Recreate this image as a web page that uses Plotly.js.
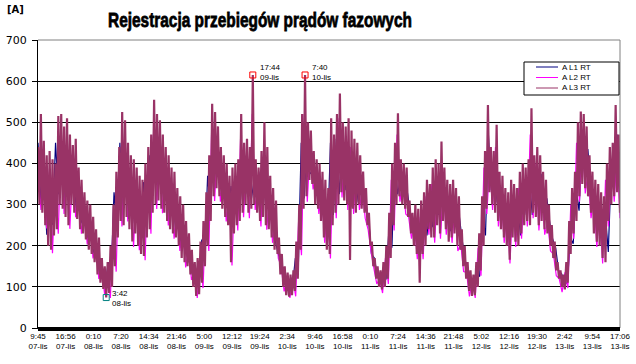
<!DOCTYPE html>
<html><head><meta charset="utf-8">
<script src="https://cdn.plot.ly/plotly-3.0.1.min.js"></script>
<style>html,body{margin:0;padding:0;background:#fff}#chart{width:636px;height:364px}</style>
</head><body><div id="chart"></div>
<script>
const seriesNames = ["A L1 RT", "A L2 RT", "A L3 RT"];
const seriesColors = ["#000080", "#FF00FF", "#993366"];
const chartTitle = "Rejestracja przebiegów prądów fazowych";
const unitLabel = "[A]";

const tickTimes = ["9:45","16:56","0:10","7:20","14:34","21:46","5:00","12:12","19:24","2:34","9:46",
  "16:58","0:10","7:24","14:36","21:48","5:02","12:16","19:30","2:42","9:54","17:06"];
const tickDates = ["07-lis","07-lis","08-lis","08-lis","08-lis","08-lis","09-lis","09-lis","09-lis","10-lis","10-lis",
  "10-lis","11-lis","11-lis","11-lis","11-lis","12-lis","12-lis","12-lis","13-lis","13-lis","13-lis"];
const yTicks = [0, 100, 200, 300, 400, 500, 600, 700];

const L1 = [450,305, 370,227, 360,251, 450,325, 430,297, 420,325, 410,291, 315,255, 265,215, 225,185,
  175,135, 120,99, 160,125, 330,245, 450,277, 400,265, 365,255, 325,205, 355,245, 420,305,
  460,335, 420,305, 370,265, 335,245, 275,195, 215,175, 155,125, 140,105, 215,175, 370,285,
  465,365, 390,315, 355,275, 345,255, 365,285, 400,325, 395,315, 365,305, 380,295, 390,265,
  295,215, 185,155, 120,105, 110,100, 170,145, 450,315, 445,375, 380,325, 355,285, 315,215,
  450,275, 460,325, 445,335, 450,295, 410,305, 375,315, 300,270, 180,170, 128,118, 135,118,
  240,195, 400,325, 370,320, 345,295, 245,225, 250,205, 285,225, 305,245, 365,275, 390,285,
  315,235, 315,255, 275,215, 165,145, 115,100, 135,125, 275,225, 470,335, 380,305, 335,265,
  295,225, 315,245, 295,225, 355,275, 365,275, 375,295, 375,285, 315,255, 215,195, 138,132,
  112,108, 220,205, 335,285, 465,365, 435,345, 335,255, 305,225, 275,185, 390,325, 470,335];

const L2 = [400,287, 410,242, 390,182, 365,229, 470,277, 460,241, 400,269, 350,229, 290,203, 260,169,
  205,119, 140,83, 130,73, 260,137, 400,247, 460,259, 380,197, 350,189, 320,165, 400,229,
  500,289, 460,279, 400,249, 350,217, 300,187, 260,147, 195,117, 135,73, 175,97, 290,187,
  490,309, 450,307, 380,259, 330,152, 360,237, 470,269, 420,267, 520,287, 350,247, 450,239,
  330,207, 270,169, 150,89, 115,73, 120,77, 260,177, 520,307, 440,337, 370,277, 340,207,
  300,169, 430,267, 510,317, 450,287, 440,277, 410,287, 340,267, 240,187, 145,107, 120,85,
  170,107, 360,237, 470,307, 360,277, 270,217, 260,167, 270,167, 320,227, 350,207, 360,217,
  350,227, 310,207, 300,187, 205,137, 135,77, 115,73, 195,127, 390,277, 400,287, 440,247,
  330,207, 290,157, 310,197, 340,217, 350,247, 470,267, 400,237, 340,227, 260,187, 180,127,
  120,87, 135,97, 300,217, 450,307, 470,327, 380,267, 320,197, 290,157, 360,247, 410,307,
  430,267];

const L3 = [440,300, 520,280, 455,250, 420,200, 430,190, 410,225, 400,240, 515,300, 520,290, 490,270,
  510,250, 470,300, 445,280, 460,265, 390,240, 360,230, 330,215, 310,190, 300,180, 270,160,
  240,130, 220,110, 170,95, 150,74, 160,85, 200,100, 300,150, 380,220, 440,260, 525,250,
  505,270, 450,240, 420,210, 410,230, 390,200, 370,180, 360,175, 400,220, 440,240, 470,280,
  555,300, 520,310, 505,290, 470,280, 440,260, 420,240, 390,230, 380,220, 340,200, 320,170,
  300,160, 260,150, 230,130, 190,100, 160,78, 170,82, 210,110, 260,150, 330,200, 420,260,
  545,320, 525,340, 490,320, 440,290, 420,270, 400,250, 370,160, 390,230, 400,250, 410,260,
  520,280, 450,300, 460,280, 440,290, 615,300, 410,280, 390,260, 430,270, 500,250, 440,240,
  370,220, 340,190, 310,180, 220,130, 180,100, 150,80, 135,76, 130,80, 140,90, 210,120,
  300,190, 520,290, 615,320, 500,360, 480,350, 430,300, 410,290, 400,260, 380,220, 360,190,
  340,180, 510,250, 470,280, 520,300, 570,330, 500,310, 490,300, 510,165, 480,290, 460,280,
  450,300, 420,290, 380,280, 340,250, 280,200, 210,150, 170,120, 150,100, 140,94, 160,100,
  200,120, 280,170, 400,250, 450,300, 522,320, 410,300, 400,290, 390,270, 310,230, 280,200,
  300,180, 290,110, 310,180, 330,200, 360,240, 350,220, 390,220, 410,250, 400,230, 453,260,
  390,240, 360,210, 350,220, 360,230, 340,200, 320,190, 240,150, 200,120, 160,90, 140,78,
  130,80, 160,100, 230,140, 320,200, 430,290, 542,330, 440,300, 430,280, 494,260, 380,240,
  370,220, 340,200, 330,166, 360,220, 350,210, 340,200, 380,230, 400,250, 390,260, 410,250,
  534,280, 420,270, 440,250, 420,260, 380,240, 360,230, 300,200, 250,170, 210,140, 160,120,
  140,100, 130,94, 160,110, 260,180, 340,230, 380,260, 500,320, 526,350, 520,340, 490,320,
  420,280, 380,230, 360,210, 350,200, 330,170, 320,160, 400,260, 440,300, 450,320, 542,330,
  470,280];

const minLabel = "3:42<br>08-lis";
const peakLabels = ["17:44<br>09-lis", "7:40<br>10-lis"];

// ---- geometry helpers (layout only) ----
const W = 636, H = 364, ML = 38, MR = 16, MT = 40, MB = 36;
const PW = W - ML - MR, PH = H - MT - MB;
const px = v => (v - ML) / PW;
const py = v => (H - MB - v) / PH;

function hoursOf(t, d) {
  const p = t.split(':').map(Number);
  return (parseInt(d, 10) - 7) * 24 + p[0] + p[1] / 60 - 9.75;
}
const tickVals = tickTimes.map((t, i) => hoursOf(t, tickDates[i]));
const tickText = tickTimes.map((t, i) => t + '<br>' + tickDates[i]);
const tEnd = tickVals[tickVals.length - 1];
const xsFor = n => Array.from({length: n}, (_, i) => i * tEnd / (n - 1));

const series = [L1, L2, L3];
const lineWidths = [1.2, 1.2, 2.2];
const traces = series.map((ys, s) => ({
  type: 'scatter', mode: 'lines', name: seriesNames[s],
  x: xsFor(ys.length), y: ys,
  line: {color: seriesColors[s], width: lineWidths[s], simplify: false},
  showlegend: false, hoverinfo: 'skip'
}));

// markers at extremes of L3
const x3 = xsFor(L3.length);
const maxV = Math.max(...L3), minV = Math.min(...L3);
const peakIdx = []; L3.forEach((v, i) => { if (v === maxV) peakIdx.push(i); });
const minIdx = L3.indexOf(minV);
traces.push({type: 'scatter', mode: 'markers', x: peakIdx.map(i => x3[i]), y: peakIdx.map(i => L3[i]),
  marker: {symbol: 'square-open', size: 6, color: '#FF0000', line: {width: 1, color: '#FF0000'}},
  showlegend: false, hoverinfo: 'skip'});
traces.push({type: 'scatter', mode: 'markers', x: [x3[minIdx]], y: [L3[minIdx]],
  marker: {symbol: 'square-open', size: 6, color: '#008080', line: {width: 1, color: '#008080'}},
  showlegend: false, hoverinfo: 'skip'});

const smallFont = {family: 'Liberation Sans, Arial, sans-serif', size: 8, color: '#000'};
const annotations = [];
peakIdx.forEach((i, k) => annotations.push({x: x3[i], y: L3[i], xref: 'x', yref: 'y', text: peakLabels[k],
  showarrow: false, xanchor: 'left', yanchor: 'middle', align: 'left', xshift: 5, yshift: 2, font: smallFont}));
annotations.push({x: x3[minIdx], y: L3[minIdx], xref: 'x', yref: 'y', text: minLabel,
  showarrow: false, xanchor: 'left', yanchor: 'middle', align: 'left', xshift: 4, yshift: -1, font: smallFont});
annotations.push({x: px(5), y: py(10), xref: 'paper', yref: 'paper', text: '<b>' + unitLabel + '</b>',
  showarrow: false, xanchor: 'left', yanchor: 'middle', font: {family: 'DejaVu Sans, sans-serif', size: 10, color: '#000'}});

const shapes = [
  {type: 'line', xref: 'paper', yref: 'paper', x0: 0, x1: 1, y0: 1, y1: 1, line: {color: '#808080', width: 1}, layer: 'above'},
  {type: 'line', xref: 'paper', yref: 'paper', x0: 1, x1: 1, y0: 0, y1: 1, line: {color: '#808080', width: 1}, layer: 'above'},
  {type: 'line', xref: 'paper', yref: 'paper', x0: 0, x1: 1, y0: py(329), y1: py(329), line: {color: '#000', width: 4}, layer: 'above'},
  {type: 'rect', xref: 'paper', yref: 'paper', x0: px(524), x1: px(619), y0: py(95), y1: py(62),
    line: {color: '#000', width: 1}, fillcolor: '#fff', layer: 'above'}
];
const legendY = [67, 77.5, 88];
seriesNames.forEach((nm, s) => {
  shapes.push({type: 'line', xref: 'paper', yref: 'paper', x0: px(536), x1: px(558), y0: py(legendY[s]), y1: py(legendY[s]),
    line: {color: seriesColors[s], width: 1}, layer: 'above'});
  annotations.push({x: px(560), y: py(legendY[s]), xref: 'paper', yref: 'paper', text: nm, showarrow: false,
    xanchor: 'left', yanchor: 'middle', font: smallFont});
});

const layout = {
  width: W, height: H,
  margin: {l: ML, r: MR, t: MT, b: MB, pad: 0},
  paper_bgcolor: '#fff', plot_bgcolor: '#fff',
  showlegend: false,
  title: {text: '<b>' + chartTitle + '</b>', x: 260 / W, xanchor: 'center', y: 1 - 20 / H, yanchor: 'middle',
    font: {family: 'Liberation Sans, Arial, sans-serif', size: 21, color: '#000'}},
  xaxis: {range: [0, tEnd], tickmode: 'array', tickvals: tickVals, ticktext: tickText,
    showgrid: false, zeroline: false, showline: true, linecolor: '#000', linewidth: 1,
    ticks: '', tickangle: 0, tickfont: smallFont, ticklabelstandoff: 0, fixedrange: true},
  yaxis: {range: [0, 700], tickmode: 'array', tickvals: yTicks, showgrid: true, gridcolor: '#000', gridwidth: 1,
    zeroline: false, showline: true, linecolor: '#000', linewidth: 1,
    ticks: 'outside', ticklen: 5, tickcolor: '#000', tickwidth: 1, ticklabelstandoff: 3,
    tickfont: {family: 'DejaVu Sans, sans-serif', size: 11, color: '#000'}, fixedrange: true},
  shapes: shapes, annotations: annotations
};

Plotly.newPlot('chart', traces, layout, {staticPlot: true, displayModeBar: false}).then(() => {
  // condense the title horizontally to mimic the narrow heavy Excel title face
  const t = document.querySelector('.gtitle');
  if (t) {
    t.style.stroke = '#000';
    t.style.strokeWidth = '0.8px';
    const bb = t.getBBox();
    const sx = 304 / bb.width;
    const cx = bb.x + bb.width / 2;
    const prev = t.getAttribute('transform') || '';
    t.setAttribute('transform', 'translate(' + cx + ',0) scale(' + sx + ',1) translate(' + (-cx) + ',0) ' + prev);
  }
});
</script></body></html>
